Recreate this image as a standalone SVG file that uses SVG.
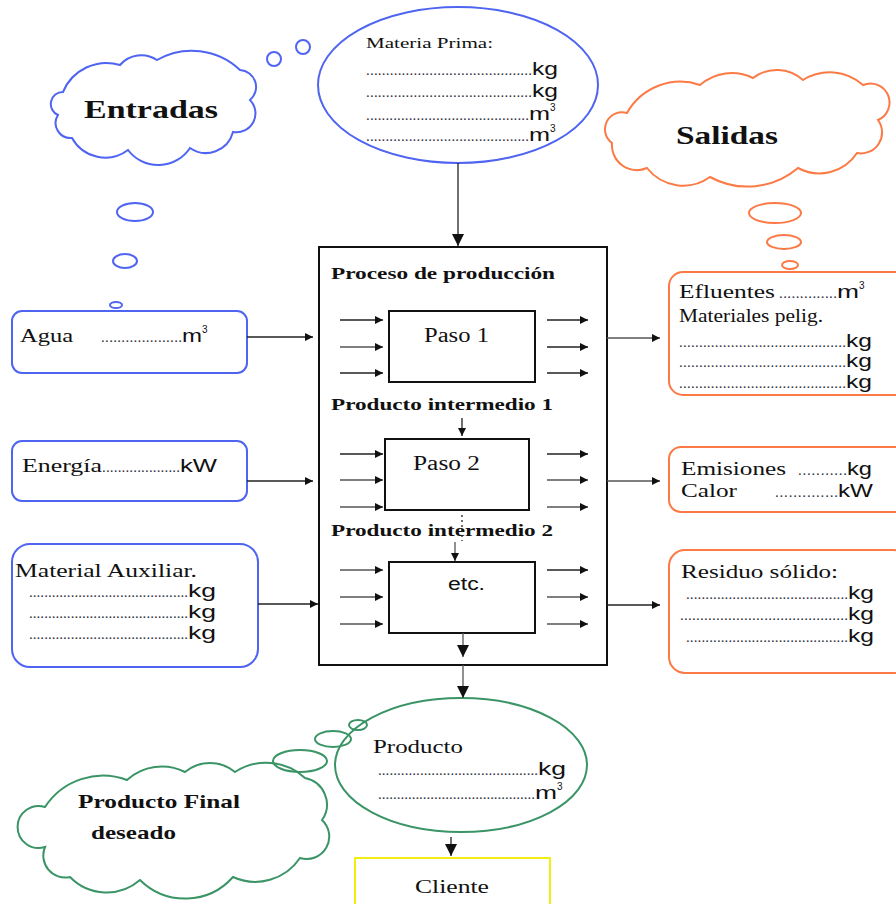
<svg xmlns="http://www.w3.org/2000/svg" width="896" height="904" viewBox="0 0 896 904">
<defs>
<marker id="ah" viewBox="0 0 10 10" refX="10" refY="5" markerWidth="10" markerHeight="8" markerUnits="userSpaceOnUse" orient="auto"><path d="M0,0 L10,5 L0,10 z" fill="#111"/></marker>
<marker id="ahb" viewBox="0 0 10 10" refX="10" refY="5" markerWidth="14" markerHeight="12" markerUnits="userSpaceOnUse" orient="auto"><path d="M0,0 L10,5 L0,10 z" fill="#111"/></marker>
</defs>
<style>
.blue{fill:none;stroke:#4f64f0;stroke-width:2}
.orange{fill:none;stroke:#fb7a45;stroke-width:2}
.green{fill:none;stroke:#3a9466;stroke-width:2}
.serif{font-family:"Liberation Serif","Times New Roman",serif;fill:#111}
.sans{font-family:"Liberation Sans",Arial,sans-serif;fill:#111;font-size:18px}
.bold{font-weight:bold}
.ln{stroke:#222;stroke-width:1.3;fill:none}
.lg{stroke:#555;stroke-width:1.3;fill:none}
.dots{font-family:"Liberation Serif",serif;fill:#334;font-size:15px}
</style>
<rect width="896" height="904" fill="#fff"/>

<g id="entradas">
<path class="blue" d="M 63 92 A 47 47 0 0 1 120 65 A 28 28 0 0 1 157 60 A 70 70 0 0 1 240 70 A 17 17 0 0 1 250 100 A 19 19 0 0 1 233 132 A 28 28 0 0 1 190 148 A 38 38 0 0 1 128 150 A 38 38 0 0 1 72 138 A 15 15 0 0 1 58 115 A 12 12 0 0 1 63 92 Z"/>
<text class="serif bold" x="84" y="118" font-size="26" textLength="134" lengthAdjust="spacingAndGlyphs">Entradas</text>
<circle class="blue" cx="274" cy="59" r="7"/>
<circle class="blue" cx="303" cy="47" r="7"/>
<ellipse class="blue" cx="135" cy="212" rx="18" ry="9"/>
<ellipse class="blue" cx="125" cy="261" rx="12" ry="7"/>
<ellipse class="blue" cx="116" cy="305" rx="6" ry="3"/>
</g>

<g id="materia-prima">
<ellipse class="blue" cx="458" cy="85" rx="140" ry="78"/>
<text class="serif" x="366" y="48" font-size="14" textLength="127" lengthAdjust="spacingAndGlyphs">Materia Prima:</text>
<text class="dots" x="366" y="75" textLength="166" lengthAdjust="spacing">..........................................</text><text class="sans" x="532" y="75" textLength="26" lengthAdjust="spacingAndGlyphs">kg</text>
<text class="dots" x="366" y="97" textLength="166" lengthAdjust="spacing">..........................................</text><text class="sans" x="532" y="97" textLength="26" lengthAdjust="spacingAndGlyphs">kg</text>
<text class="dots" x="366" y="120" textLength="163" lengthAdjust="spacing">..........................................</text><text class="sans" x="529" y="120"><tspan textLength="21" lengthAdjust="spacingAndGlyphs">m</tspan><tspan font-size="10" dy="-9">3</tspan></text>
<text class="dots" x="366" y="141" textLength="163" lengthAdjust="spacing">..........................................</text><text class="sans" x="529" y="141"><tspan textLength="21" lengthAdjust="spacingAndGlyphs">m</tspan><tspan font-size="10" dy="-9">3</tspan></text>
</g>

<g id="salidas">
<path class="orange" d="M 627 113 A 61 61 0 0 1 700 85 A 48 48 0 0 1 753 78 A 39 39 0 0 1 803 80 A 50 50 0 0 1 863 85 A 19 19 0 0 1 878 120 A 21 21 0 0 1 857 153 A 45 45 0 0 1 798 168 A 78 78 0 0 1 710 177 A 46 46 0 0 1 647 168 A 25 25 0 0 1 612 143 A 17 17 0 0 1 627 113 Z"/>
<text class="serif bold" x="676" y="144" font-size="26" textLength="102" lengthAdjust="spacingAndGlyphs">Salidas</text>
<ellipse class="orange" cx="775" cy="213" rx="26" ry="10"/>
<ellipse class="orange" cx="784" cy="242" rx="17" ry="7"/>
<ellipse class="orange" cx="790" cy="265" rx="8" ry="4"/>
</g>

<g id="proceso">
<rect x="319" y="247" width="288" height="418" fill="none" stroke="#111" stroke-width="2"/>
<text class="serif bold" x="331" y="279" font-size="17" textLength="224" lengthAdjust="spacingAndGlyphs">Proceso de producción</text>
<text class="serif bold" x="331" y="410" font-size="17" textLength="222" lengthAdjust="spacingAndGlyphs">Producto intermedio 1</text>
<text class="serif bold" x="331" y="536" font-size="17" textLength="222" lengthAdjust="spacingAndGlyphs">Producto intermedio 2</text>
</g>

<g id="paso1">
<rect x="389" y="311" width="146" height="71" fill="none" stroke="#111" stroke-width="2"/>
<text class="serif" x="424" y="342" font-size="20" textLength="65" lengthAdjust="spacingAndGlyphs">Paso 1</text>
</g>
<g id="paso2">
<rect x="385" y="439" width="144" height="71" fill="none" stroke="#111" stroke-width="2"/>
<text class="serif" x="413" y="470" font-size="20" textLength="67" lengthAdjust="spacingAndGlyphs">Paso 2</text>
</g>
<g id="etc">
<rect x="389" y="562" width="146" height="71" fill="none" stroke="#111" stroke-width="2"/>
<text class="sans" x="448" y="590" font-size="17" textLength="37" lengthAdjust="spacingAndGlyphs">etc.</text>
</g>

<g id="agua">
<rect class="blue" x="12" y="311" width="235" height="62" rx="10"/>
<text class="serif" x="20" y="342" font-size="19" textLength="53" lengthAdjust="spacingAndGlyphs">Agua</text>
<text class="dots" x="101" y="342" textLength="81" lengthAdjust="spacing">....................</text><text class="sans" x="182" y="342"><tspan textLength="20" lengthAdjust="spacingAndGlyphs">m</tspan><tspan font-size="10" dy="-9">3</tspan></text>
</g>
<g id="energia">
<rect class="blue" x="12" y="441" width="235" height="60" rx="10"/>
<text class="serif" x="22" y="472" font-size="19" textLength="80" lengthAdjust="spacingAndGlyphs">Energía</text>
<text class="dots" x="102" y="472" textLength="78" lengthAdjust="spacing">....................</text><text class="sans" x="180" y="472" textLength="37" lengthAdjust="spacingAndGlyphs">kW</text>
</g>
<g id="material-auxiliar">
<rect class="blue" x="12" y="544" width="246" height="123" rx="18"/>
<text class="serif" x="15" y="577" font-size="19" textLength="182" lengthAdjust="spacingAndGlyphs">Material Auxiliar.</text>
<text class="dots" x="29" y="597" textLength="159" lengthAdjust="spacing">..........................................</text><text class="sans" x="188" y="597" textLength="28" lengthAdjust="spacingAndGlyphs">kg</text>
<text class="dots" x="29" y="618" textLength="159" lengthAdjust="spacing">..........................................</text><text class="sans" x="188" y="618" textLength="28" lengthAdjust="spacingAndGlyphs">kg</text>
<text class="dots" x="29" y="639" textLength="159" lengthAdjust="spacing">..........................................</text><text class="sans" x="188" y="639" textLength="28" lengthAdjust="spacingAndGlyphs">kg</text>
</g>

<g id="efluentes">
<rect class="orange" x="669" y="272" width="240" height="123" rx="14"/>
<text class="serif" x="679" y="298" font-size="19" textLength="96" lengthAdjust="spacingAndGlyphs">Efluentes</text>
<text class="dots" x="779" y="298" textLength="58" lengthAdjust="spacing">..............</text><text class="sans" x="837" y="298"><tspan textLength="22" lengthAdjust="spacingAndGlyphs">m</tspan><tspan font-size="10" dy="-9">3</tspan></text>
<text class="serif" x="679" y="322" font-size="19" textLength="144" lengthAdjust="spacingAndGlyphs">Materiales pelig.</text>
<text class="dots" x="679" y="347" textLength="167" lengthAdjust="spacing">..........................................</text><text class="sans" x="846" y="347" textLength="26" lengthAdjust="spacingAndGlyphs">kg</text>
<text class="dots" x="679" y="367" textLength="167" lengthAdjust="spacing">..........................................</text><text class="sans" x="846" y="367" textLength="26" lengthAdjust="spacingAndGlyphs">kg</text>
<text class="dots" x="679" y="388" textLength="167" lengthAdjust="spacing">..........................................</text><text class="sans" x="846" y="388" textLength="26" lengthAdjust="spacingAndGlyphs">kg</text>
</g>
<g id="emisiones">
<rect class="orange" x="669" y="447" width="240" height="65" rx="12"/>
<text class="serif" x="681" y="475" font-size="19" textLength="105" lengthAdjust="spacingAndGlyphs">Emisiones</text>
<text class="dots" x="798" y="475" textLength="49" lengthAdjust="spacing">...........</text><text class="sans" x="847" y="475" textLength="25" lengthAdjust="spacingAndGlyphs">kg</text>
<text class="serif" x="681" y="497" font-size="19" textLength="56" lengthAdjust="spacingAndGlyphs">Calor</text>
<text class="dots" x="775" y="497" textLength="63" lengthAdjust="spacing">..............</text><text class="sans" x="838" y="497" textLength="35" lengthAdjust="spacingAndGlyphs">kW</text>
</g>
<g id="residuo">
<rect class="orange" x="669" y="550" width="240" height="123" rx="16"/>
<text class="serif" x="681" y="578" font-size="19" textLength="157" lengthAdjust="spacingAndGlyphs">Residuo sólido:</text>
<text class="dots" x="686" y="599" textLength="162" lengthAdjust="spacing">..........................................</text><text class="sans" x="848" y="599" textLength="26" lengthAdjust="spacingAndGlyphs">kg</text>
<text class="dots" x="680" y="620" textLength="168" lengthAdjust="spacing">..........................................</text><text class="sans" x="848" y="620" textLength="26" lengthAdjust="spacingAndGlyphs">kg</text>
<text class="dots" x="686" y="642" textLength="162" lengthAdjust="spacing">..........................................</text><text class="sans" x="848" y="642" textLength="26" lengthAdjust="spacingAndGlyphs">kg</text>
</g>

<g id="producto-final">
<path class="green" d="M 45 807 A 69 69 0 0 1 127 780 A 52 52 0 0 1 185 772 A 39 39 0 0 1 235 772 A 57 57 0 0 1 305 778 A 27 27 0 0 1 322 820 A 22.5 22.5 0 0 1 300 858 A 54 54 0 0 1 233 877 A 64 64 0 0 1 140 880 A 51 51 0 0 1 70 877 A 22 22 0 0 1 45 847 A 21 21 0 1 1 45 807 Z" fill="#fff"/>
<ellipse class="green" cx="300" cy="761" rx="27" ry="11" fill="#fff"/>
<text class="serif bold" x="78" y="808" font-size="19" textLength="162" lengthAdjust="spacingAndGlyphs">Producto Final</text>
<text class="serif bold" x="91" y="839" font-size="19" textLength="85" lengthAdjust="spacingAndGlyphs">deseado</text>
</g>

<g id="producto">
<ellipse class="green" cx="461" cy="765" rx="126" ry="67"/>
<ellipse class="green" cx="333" cy="739" rx="18" ry="8"/>
<ellipse class="green" cx="358" cy="725" rx="9" ry="5"/>
<text class="serif" x="373" y="753" font-size="19" textLength="90" lengthAdjust="spacingAndGlyphs">Producto</text>
<text class="dots" x="378" y="775" textLength="160" lengthAdjust="spacing">..........................................</text><text class="sans" x="538" y="775" textLength="28" lengthAdjust="spacingAndGlyphs">kg</text>
<text class="dots" x="378" y="799" textLength="157" lengthAdjust="spacing">..........................................</text><text class="sans" x="535" y="799"><tspan textLength="22" lengthAdjust="spacingAndGlyphs">m</tspan><tspan font-size="10" dy="-9">3</tspan></text>
</g>

<g id="cliente">
<rect x="355" y="858" width="195" height="60" fill="none" stroke="#f2ee10" stroke-width="2"/>
<text class="serif" x="415" y="893" font-size="19" textLength="74" lengthAdjust="spacingAndGlyphs">Cliente</text>
</g>

<g id="connectors">
<line class="ln" x1="458" y1="163" x2="458" y2="246" marker-end="url(#ahb)"/>
<line class="ln" x1="247" y1="337" x2="313" y2="337" marker-end="url(#ah)"/>
<line class="ln" x1="247" y1="481" x2="313" y2="481" marker-end="url(#ah)"/>
<line class="ln" x1="258" y1="604" x2="318" y2="604" marker-end="url(#ah)"/>
<line class="lg" x1="607" y1="338" x2="660" y2="338" marker-end="url(#ah)"/>
<line class="lg" x1="607" y1="481" x2="660" y2="481" marker-end="url(#ah)"/>
<line class="ln" x1="607" y1="605" x2="660" y2="605" marker-end="url(#ah)"/>
<g>
<line class="ln" x1="340" y1="320" x2="383" y2="320" marker-end="url(#ah)"/>
<line class="lg" x1="340" y1="347" x2="383" y2="347" marker-end="url(#ah)"/>
<line class="ln" x1="340" y1="373" x2="383" y2="373" marker-end="url(#ah)"/>
<line class="ln" x1="547" y1="320" x2="588" y2="320" marker-end="url(#ah)"/>
<line class="ln" x1="547" y1="347" x2="588" y2="347" marker-end="url(#ah)"/>
<line class="ln" x1="547" y1="373" x2="588" y2="373" marker-end="url(#ah)"/>
<line class="ln" x1="340" y1="454" x2="383" y2="454" marker-end="url(#ah)"/>
<line class="lg" x1="340" y1="480" x2="383" y2="480" marker-end="url(#ah)"/>
<line class="lg" x1="340" y1="507" x2="383" y2="507" marker-end="url(#ah)"/>
<line class="ln" x1="547" y1="454" x2="588" y2="454" marker-end="url(#ah)"/>
<line class="lg" x1="547" y1="480" x2="588" y2="480" marker-end="url(#ah)"/>
<line class="lg" x1="547" y1="507" x2="588" y2="507" marker-end="url(#ah)"/>
<line class="lg" x1="340" y1="570" x2="383" y2="570" marker-end="url(#ah)"/>
<line class="lg" x1="340" y1="597" x2="383" y2="597" marker-end="url(#ah)"/>
<line class="lg" x1="340" y1="624" x2="383" y2="624" marker-end="url(#ah)"/>
<line class="ln" x1="547" y1="570" x2="588" y2="570" marker-end="url(#ah)"/>
<line class="lg" x1="547" y1="597" x2="588" y2="597" marker-end="url(#ah)"/>
<line class="lg" x1="547" y1="624" x2="588" y2="624" marker-end="url(#ah)"/>
</g>
<line class="ln" x1="462" y1="418" x2="462" y2="436" marker-end="url(#ah)"/>
<line x1="462" y1="515" x2="462" y2="541" stroke="#222" stroke-width="1.3" stroke-dasharray="2,3"/>
<line class="lg" x1="455" y1="542" x2="455" y2="561" marker-end="url(#ah)"/>
<line class="lg" x1="463" y1="633" x2="463" y2="657" marker-end="url(#ahb)"/>
<line class="lg" x1="463" y1="665" x2="463" y2="698" marker-end="url(#ahb)"/>
<line class="ln" x1="451" y1="837" x2="451" y2="856" marker-end="url(#ahb)"/>
</g>
</svg>
